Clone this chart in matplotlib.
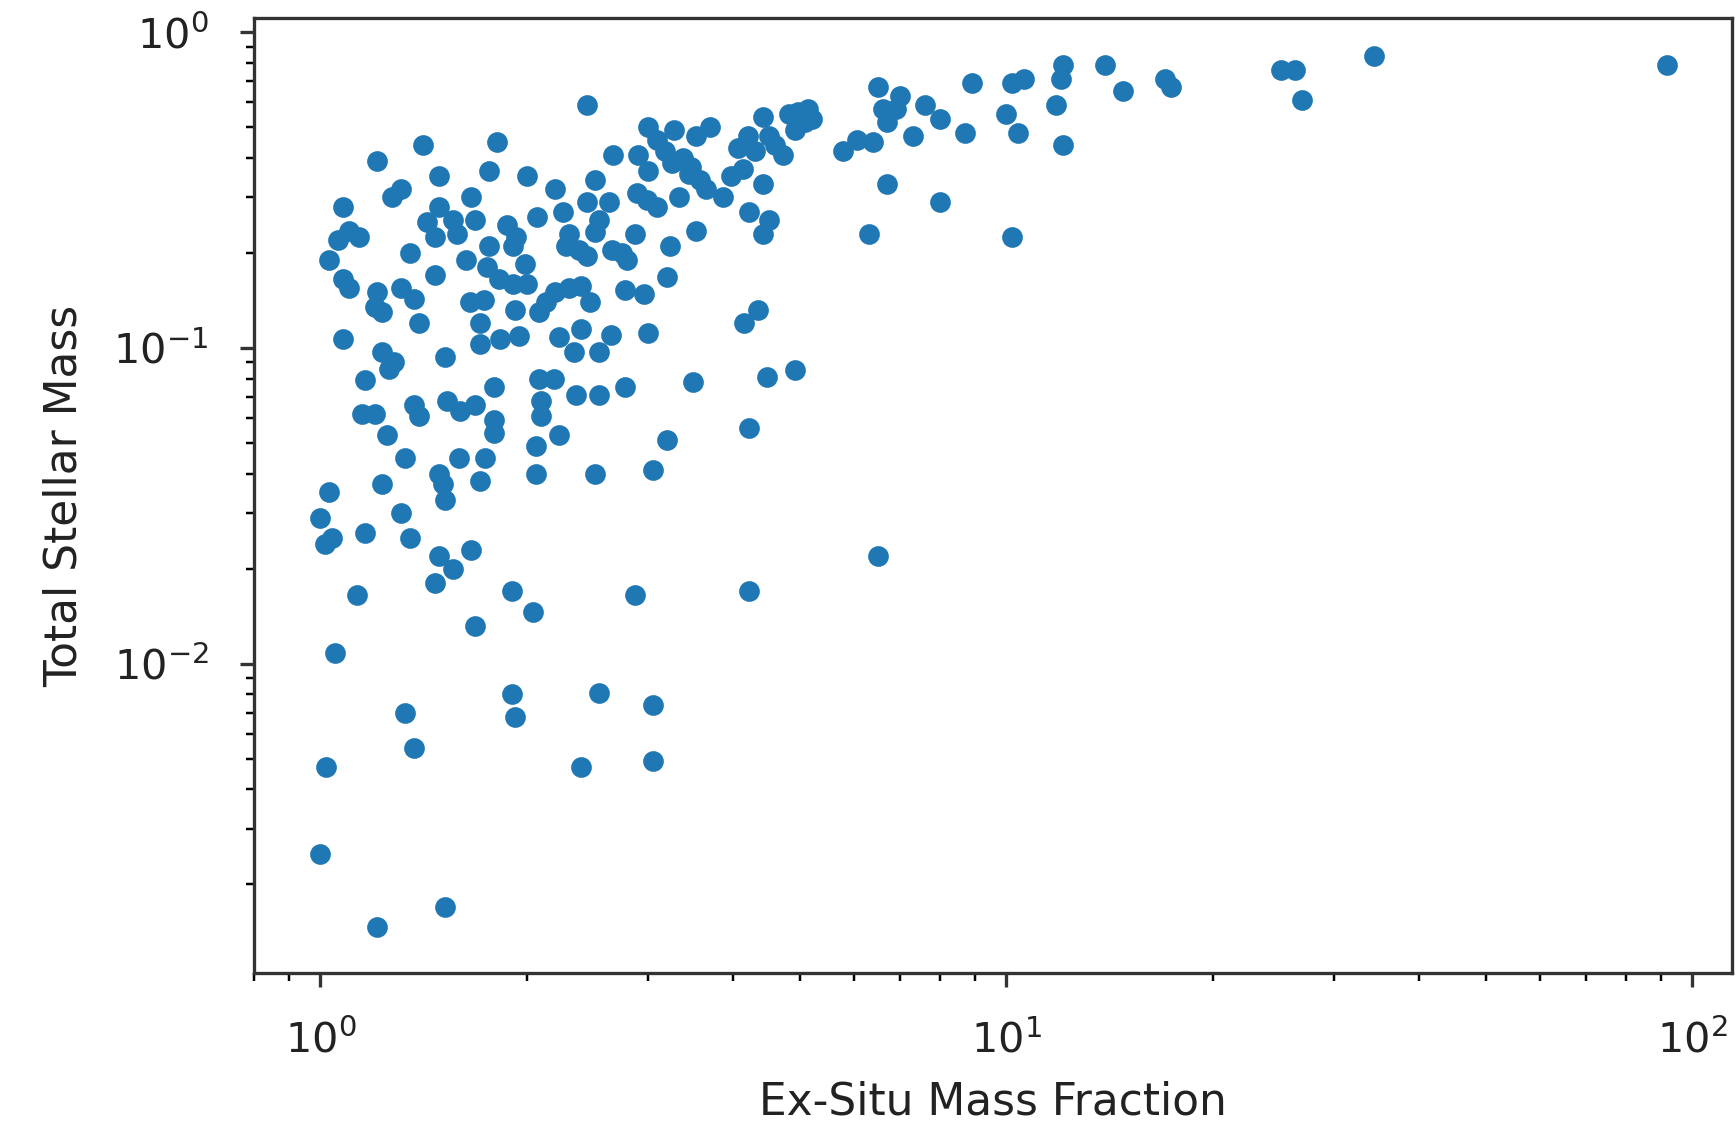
"""
Ex-Situ Mass Fraction vs Total Stellar Mass, log-log scatter

Output: out.png (1736x1130)
"""

import matplotlib
matplotlib.use('Agg')
import matplotlib.pyplot as plt

# ==================== Data ====================

# top-left dense region
ex_situ_a = [1.41, 1.81, 1.21, 1.49, 1.76, 2.00, 1.31, 1.27, 1.08, 1.49,
             1.66, 2.07, 1.10, 1.14, 1.06, 1.03, 1.35, 1.43, 1.47, 1.56,
             1.58, 1.68, 1.63, 1.87, 1.93, 1.76, 1.91, 1.75, 1.82, 1.91,
             1.99, 2.00, 1.47, 1.08, 1.10, 1.21, 1.20, 1.23, 1.31, 1.37,
             1.39, 1.65, 1.73, 1.92, 1.71, 1.08]
mass_a = [0.44, 0.45, 0.39, 0.35, 0.365, 0.35, 0.32, 0.30, 0.28, 0.28,
          0.30, 0.26, 0.235, 0.225, 0.22, 0.19, 0.20, 0.25, 0.225, 0.255,
          0.23, 0.255, 0.19, 0.245, 0.225, 0.21, 0.21, 0.18, 0.165, 0.16,
          0.185, 0.16, 0.17, 0.165, 0.155, 0.15, 0.135, 0.13, 0.155, 0.143,
          0.12, 0.14, 0.142, 0.132, 0.12, 0.107]

# left, middle heights
ex_situ_b = [1.83, 1.95, 1.71, 1.23, 1.28, 1.26, 1.52, 1.16, 1.79, 1.15,
             1.20, 1.37, 1.39, 1.53, 1.60, 1.68, 1.79, 1.79, 1.25, 1.33,
             1.59, 1.74, 1.49, 1.51, 1.52, 1.71, 1.23, 1.03, 1.00, 1.04,
             1.015, 1.16, 1.31, 1.35, 1.49, 1.56, 1.47, 1.66, 1.13, 1.90,
             1.68, 2.04]
mass_b = [0.107, 0.109, 0.103, 0.097, 0.090, 0.086, 0.094, 0.079, 0.075, 0.062,
          0.062, 0.066, 0.061, 0.068, 0.063, 0.066, 0.059, 0.054, 0.053, 0.045,
          0.045, 0.045, 0.040, 0.037, 0.033, 0.038, 0.037, 0.035, 0.029, 0.025,
          0.024, 0.026, 0.030, 0.025, 0.022, 0.020, 0.018, 0.023, 0.0165, 0.017,
          0.0132, 0.0146]

# low-mass tail
ex_situ_c = [1.05, 1.33, 1.37, 1.02, 1.90, 1.92, 1.00, 1.52, 1.21,
             2.55, 3.05, 2.40, 3.05]
mass_c = [0.0108, 0.0070, 0.0054, 0.0047, 0.0080, 0.0068, 0.0025, 0.0017, 0.00147,
          0.0081, 0.0074, 0.0047, 0.0049]

# x ~ 2-5, below 0.12
ex_situ_d = [2.23, 2.34, 2.55, 2.65, 3.00, 2.08, 2.19, 2.36, 2.55, 2.78,
             3.49, 4.48, 4.91, 2.10, 2.10, 2.23, 2.06, 2.06, 2.51, 3.20,
             3.05, 4.22, 2.87, 4.22, 2.40]
mass_d = [0.108, 0.097, 0.097, 0.110, 0.112, 0.080, 0.080, 0.071, 0.071, 0.075,
          0.078, 0.081, 0.085, 0.068, 0.061, 0.053, 0.049, 0.040, 0.040, 0.051,
          0.041, 0.056, 0.0165, 0.017, 0.115]

# x ~ 2-5, upper band
ex_situ_e = [2.45, 3.00, 3.28, 3.70, 3.53, 3.09, 3.18, 3.25, 3.38, 3.47,
             3.44, 3.57, 3.65, 2.67, 2.90, 3.00, 2.51, 2.20, 2.26, 2.45,
             2.63, 2.89, 2.99, 3.09, 3.33, 3.86, 3.97, 4.13, 4.06, 4.20,
             4.30, 4.42, 4.50, 4.60, 4.73, 4.82, 4.97, 5.14, 5.08, 4.92,
             5.20, 4.42, 4.22, 4.50, 4.42, 2.30, 2.28, 2.38, 2.45, 2.51,
             2.55, 2.66, 2.75, 2.80, 2.87, 3.23, 3.53, 3.20, 2.78, 2.96,
             2.20, 2.30, 2.40, 2.47, 2.13, 2.08, 4.35, 4.15]
mass_e = [0.59, 0.50, 0.49, 0.50, 0.47, 0.455, 0.42, 0.385, 0.40, 0.375,
          0.355, 0.34, 0.32, 0.41, 0.41, 0.365, 0.34, 0.32, 0.27, 0.29,
          0.29, 0.31, 0.295, 0.28, 0.30, 0.30, 0.35, 0.37, 0.43, 0.47,
          0.42, 0.54, 0.47, 0.44, 0.41, 0.55, 0.56, 0.57, 0.52, 0.49,
          0.53, 0.33, 0.27, 0.255, 0.23, 0.23, 0.21, 0.205, 0.195, 0.233,
          0.255, 0.205, 0.20, 0.19, 0.23, 0.21, 0.235, 0.168, 0.153, 0.148,
          0.15, 0.155, 0.157, 0.14, 0.14, 0.13, 0.132, 0.12]

# x > 5
ex_situ_f = [6.5, 6.99, 6.6, 6.9, 6.7, 7.6, 8.0, 7.3, 8.9, 8.7,
             10.2, 10.6, 10.0, 10.4, 12.1, 12.0, 11.8, 12.1, 13.9, 5.78,
             6.05, 6.4, 6.7, 8.0, 6.3, 10.2, 6.5, 14.8, 17.0, 17.4,
             25.1, 26.3, 27.0, 34.3, 91.7]
mass_f = [0.67, 0.63, 0.57, 0.57, 0.52, 0.59, 0.53, 0.47, 0.69, 0.48,
          0.69, 0.71, 0.55, 0.48, 0.79, 0.71, 0.59, 0.44, 0.79, 0.42,
          0.455, 0.45, 0.33, 0.29, 0.23, 0.225, 0.022, 0.65, 0.71, 0.67,
          0.76, 0.76, 0.61, 0.84, 0.79]

ex_situ = ex_situ_a + ex_situ_b + ex_situ_c + ex_situ_d + ex_situ_e + ex_situ_f
stellar_mass = mass_a + mass_b + mass_c + mass_d + mass_e + mass_f

# ==================== Plot ====================

DPI = 298
fig = plt.figure(figsize=(1736 / DPI, 1130 / DPI), dpi=DPI)
ax = fig.add_axes([0.1463, 0.1389, 0.8514, 0.8452])

ax.scatter(ex_situ, stellar_mass, s=16, color='#1f77b4')
ax.set_xscale('log')
ax.set_yscale('log')
ax.set_xlim(0.80, 114.2)
ax.set_ylim(0.001047, 1.111)

ax.tick_params(axis='x', which='major', pad=8)
ax.tick_params(axis='y', which='major', pad=7.5)
ax.tick_params(colors='#333333', labelcolor='#222222')
for sp in ax.spines.values():
    sp.set_color('#333333')

ax.set_xlabel('Ex-Situ Mass Fraction', fontsize=10.6, labelpad=4.5, color='#222222')
ax.set_ylabel('Total Stellar Mass', fontsize=10.6, labelpad=6.7, color='#222222')

fig.savefig('out.png', dpi=DPI)
